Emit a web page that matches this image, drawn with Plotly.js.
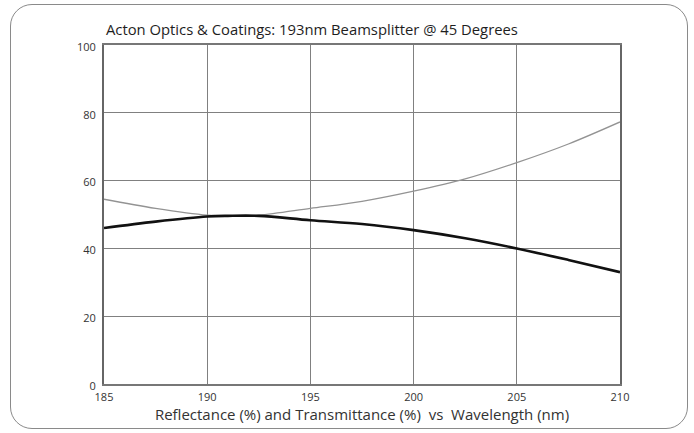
<!DOCTYPE html>
<html>
<head>
<meta charset="utf-8">
<script src="https://cdn.plot.ly/plotly-3.0.1.min.js"></script>
<style>
  html, body { margin: 0; padding: 0; background: #ffffff; }
  #wrap { position: relative; width: 694px; height: 433px; }
  #chart { position: absolute; left: 0; top: 0; width: 694px; height: 433px; }
  #frame { position: absolute; left: 10px; top: 4px; width: 678px; height: 425px;
           border: 1.5px solid #8a8a8a; border-radius: 22px; pointer-events: none; box-sizing: border-box; }
</style>
</head>
<body>
<div id="wrap">
  <div id="chart"></div>
  <div id="frame"></div>
</div>
<script>
// Wavelength (nm)
const wavelength = [185, 187.5, 190, 191, 192.5, 195, 197.5, 200, 202.5, 205, 207.5, 210];
// Thin grey curve (%)
const transmittance = [54.5, 51.8, 49.8, 49.6, 49.8, 51.8, 53.9, 56.9, 60.5, 65.3, 70.8, 77.3];
// Thick black curve (%)
const reflectance = [46.0, 47.9, 49.4, 49.6, 49.6, 48.3, 47.2, 45.4, 43.0, 40.0, 36.6, 33.0];

const xTicks = [185, 190, 195, 200, 205, 210];
const yTicks = [0, 20, 40, 60, 80, 100];

const titleText = "Acton Optics &amp; Coatings: 193nm Beamsplitter @ 45 Degrees";
const xTitleText = "Reflectance (%) and Transmittance (%)&nbsp;&nbsp;vs&nbsp;&nbsp;Wavelength (nm)";

const font = "Open Sans, Lato, sans-serif";

const traces = [
  {
    x: wavelength, y: transmittance, type: "scatter", mode: "lines",
    name: "Transmittance",
    line: { color: "#939393", width: 1.3, shape: "spline", smoothing: 1 }
  },
  {
    x: wavelength, y: reflectance, type: "scatter", mode: "lines",
    name: "Reflectance",
    line: { color: "#111111", width: 2.6, shape: "spline", smoothing: 1 }
  }
];

const layout = {
  width: 694, height: 433,
  margin: { l: 104, r: 74, t: 45, b: 49 },
  paper_bgcolor: "#ffffff",
  plot_bgcolor: "#ffffff",
  showlegend: false,
  title: {
    text: titleText,
    x: 106 / 694, xanchor: "left", xref: "container",
    y: 1 - 30 / 433, yanchor: "middle", yref: "container",
    font: { family: font, size: 14.8, color: "#1e1e1e" }
  },
  xaxis: {
    range: [185, 210],
    tickvals: xTicks,
    ticktext: xTicks.map(String),
    showgrid: true, gridcolor: "#808080", gridwidth: 1.2,
    zeroline: false,
    showline: true, linecolor: "#777777", linewidth: 2, mirror: true,
    ticks: "", ticklen: 0,
    ticklabelstandoff: 2,
    tickfont: { family: font, size: 11, color: "#333333" },
    title: { text: xTitleText, standoff: 3, font: { family: font, size: 15, color: "#333333" } },
    fixedrange: true
  },
  yaxis: {
    range: [0, 100],
    tickvals: yTicks,
    ticktext: yTicks.map(String),
    showgrid: true, gridcolor: "#808080", gridwidth: 1.2,
    zeroline: false,
    showline: true, linecolor: "#666666", linewidth: 2, mirror: true,
    ticks: "", ticklen: 0,
    ticklabelshift: 2,
    ticklabelstandoff: 4,
    tickfont: { family: font, size: 11, color: "#333333" },
    fixedrange: true
  }
};

Plotly.newPlot("chart", traces, layout, { displayModeBar: false, staticPlot: true });
</script>
</body>
</html>
